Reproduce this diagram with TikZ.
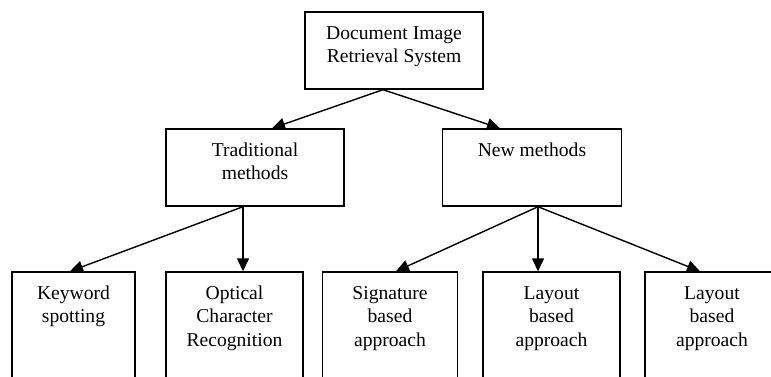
\documentclass[tikz,border=0pt]{standalone}
\usepackage{fontspec}
\setmainfont{Liberation Serif}
\usetikzlibrary{arrows.meta}
\begin{document}
\begin{tikzpicture}[x=1pt,y=-1pt,
  box/.style={draw, line width=1.4pt, inner sep=0pt},
  lbl/.style={anchor=north, align=center, inner sep=0pt, yshift=-11.2pt,
    font=\fontsize{19.6}{23.5}\selectfont},
  conn/.style={line width=1.4pt, -{Triangle[length=13pt,width=12pt]}}]
\useasboundingbox (0,0) rectangle (771,376);
\clip (0,0) rectangle (771,376);
\node[box, minimum width=178pt, minimum height=77pt,
  label={[lbl]north:{\strut Document Image\\Retrieval System}}] (top) at (394,50.5) {};
\node[box, minimum width=178pt, minimum height=77pt,
  label={[lbl]north:{\strut Traditional\\methods}}] (trad) at (255,167.5) {};
\node[box, minimum width=179pt, minimum height=77pt,
  label={[lbl]north:{\strut New methods}}] (new) at (532,167.5) {};
\node[box, minimum width=123pt, minimum height=120pt,
  label={[lbl]north:{\strut Keyword\\spotting}}] (kw) at (73.5,332) {};
\node[box, minimum width=137pt, minimum height=120pt,
  label={[lbl]north:{\strut Optical\\Character\\Recognition}}] (ocr) at (234.5,332) {};
\node[box, minimum width=135pt, minimum height=120pt,
  label={[lbl]north:{\strut Signature\\based\\approach}}] (sig) at (390,332) {};
\node[box, minimum width=137pt, minimum height=120pt,
  label={[lbl]north:{\strut Layout\\based\\approach}}] (lay1) at (551.5,332) {};
\node[box, minimum width=134pt, minimum height=120pt,
  label={[lbl]north:{\strut Layout\\based\\approach}}] (lay2) at (712,332) {};
\draw[conn] ([xshift=-11pt]top.south) -- ([xshift=17pt]trad.north);
\draw[conn] ([xshift=-11pt]top.south) -- ([xshift=-32pt]new.north);
\draw[conn] ([xshift=-12pt]trad.south) -- ([xshift=-3.5pt]kw.north);
\draw[conn] ([xshift=-12pt]trad.south) -- ([xshift=8.5pt]ocr.north);
\draw[conn] ([xshift=6pt]new.south) -- ([xshift=6pt]sig.north);
\draw[conn] ([xshift=6pt]new.south) -- ([xshift=-13.5pt]lay1.north);
\draw[conn] ([xshift=6pt]new.south) -- ([xshift=-12pt]lay2.north);
\end{tikzpicture}
\end{document}
